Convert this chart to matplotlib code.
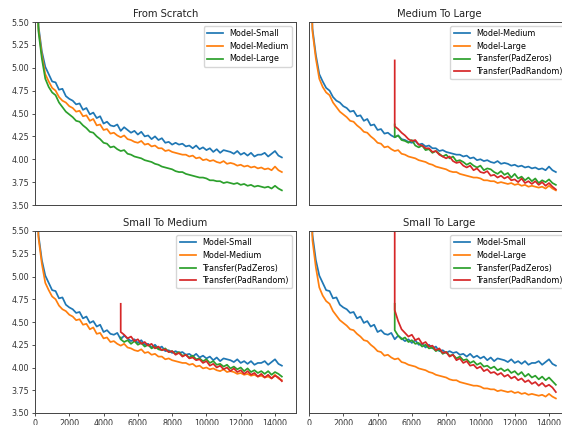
import numpy as np
import matplotlib
matplotlib.use("Agg")
import matplotlib.pyplot as plt

# ---------------- data ----------------
steps = np.arange(0, 14401, 200)
transfer_steps = np.concatenate([[5000], np.arange(5000, 14401, 200)])

model_small = [
    7.20, 5.46, 5.18, 5.01, 4.93, 4.85, 4.84, 4.76, 4.77, 4.69,
    4.66, 4.64, 4.60, 4.61, 4.54, 4.56, 4.49, 4.51, 4.45, 4.47,
    4.39, 4.41, 4.37, 4.36, 4.38, 4.31, 4.35, 4.32, 4.29, 4.31,
    4.27, 4.30, 4.25, 4.26, 4.22, 4.25, 4.21, 4.23, 4.18, 4.19,
    4.16, 4.18, 4.16, 4.17, 4.14, 4.15, 4.12, 4.15, 4.11, 4.13,
    4.10, 4.12, 4.08, 4.11, 4.07, 4.10, 4.09, 4.08, 4.06, 4.09,
    4.05, 4.07, 4.04, 4.07, 4.03, 4.05, 4.05, 4.07, 4.03, 4.06,
    4.09, 4.04, 4.02,
]
model_medium = [
    7.10, 5.43, 5.14, 4.93, 4.85, 4.78, 4.75, 4.68, 4.64, 4.62,
    4.58, 4.56, 4.52, 4.53, 4.47, 4.48, 4.42, 4.44, 4.37, 4.38,
    4.32, 4.33, 4.28, 4.29, 4.26, 4.24, 4.26, 4.22, 4.21, 4.19,
    4.18, 4.20, 4.16, 4.17, 4.14, 4.15, 4.12, 4.12, 4.09, 4.10,
    4.08, 4.07, 4.06, 4.05, 4.05, 4.03, 4.04, 4.01, 4.02, 3.99,
    4.00, 3.98, 3.99, 3.97, 3.96, 3.98, 3.95, 3.96, 3.95, 3.93,
    3.94, 3.92, 3.93, 3.91, 3.92, 3.90, 3.91, 3.89, 3.90, 3.88,
    3.92, 3.88, 3.86,
]
model_large = [
    7.00, 5.40, 5.10, 4.88, 4.79, 4.73, 4.70, 4.62, 4.57, 4.52,
    4.49, 4.46, 4.42, 4.41, 4.37, 4.34, 4.30, 4.29, 4.25, 4.22,
    4.18, 4.17, 4.13, 4.14, 4.11, 4.09, 4.10, 4.06, 4.05, 4.03,
    4.02, 4.01, 3.99, 3.98, 3.97, 3.95, 3.94, 3.92, 3.91, 3.90,
    3.89, 3.87, 3.86, 3.86, 3.84, 3.83, 3.82, 3.81, 3.80, 3.80,
    3.79, 3.77, 3.77, 3.76, 3.76, 3.74, 3.75, 3.74, 3.73, 3.74,
    3.72, 3.73, 3.71, 3.72, 3.70, 3.71, 3.70, 3.69, 3.70, 3.68,
    3.71, 3.68, 3.66,
]

# Medium -> Large transfer
ml_padzeros = [
    4.38,
    4.24, 4.26, 4.21, 4.20, 4.18, 4.21, 4.15, 4.13, 4.15, 4.10,
    4.11, 4.07, 4.09, 4.06, 4.03, 4.05, 4.01, 4.03, 3.98, 3.99,
    3.97, 3.94, 3.96, 3.93, 3.91, 3.93, 3.88, 3.90, 3.89, 3.86,
    3.84, 3.87, 3.83, 3.85, 3.80, 3.84, 3.79, 3.81, 3.77, 3.80,
    3.76, 3.79, 3.74, 3.77, 3.75, 3.78, 3.74, 3.72,
]
ml_padrandom = [
    5.08,
    4.36, 4.33, 4.29, 4.26, 4.22, 4.20, 4.21, 4.16, 4.15, 4.12,
    4.12, 4.08, 4.09, 4.05, 4.03, 4.01, 4.03, 3.98, 3.96, 3.97,
    3.93, 3.91, 3.93, 3.88, 3.90, 3.86, 3.85, 3.87, 3.82, 3.83,
    3.80, 3.82, 3.79, 3.81, 3.77, 3.78, 3.75, 3.79, 3.74, 3.76,
    3.73, 3.76, 3.72, 3.75, 3.71, 3.74, 3.70, 3.67,
]
# Small -> Medium transfer
sm_padzeros = [
    4.33,
    4.31, 4.28, 4.30, 4.26, 4.29, 4.25, 4.27, 4.23, 4.25, 4.21,
    4.23, 4.20, 4.19, 4.21, 4.17, 4.18, 4.15, 4.17, 4.13, 4.14,
    4.11, 4.13, 4.09, 4.10, 4.07, 4.09, 4.05, 4.07, 4.03, 4.04,
    4.01, 4.03, 3.99, 4.01, 3.98, 4.00, 3.96, 3.99, 3.95, 3.97,
    3.94, 3.96, 3.93, 3.96, 3.92, 3.95, 3.93, 3.90,
]
sm_padrandom = [
    4.70,
    4.39, 4.36, 4.32, 4.34, 4.29, 4.31, 4.26, 4.28, 4.24, 4.26,
    4.21, 4.23, 4.19, 4.20, 4.17, 4.18, 4.14, 4.16, 4.12, 4.14,
    4.10, 4.11, 4.08, 4.09, 4.05, 4.07, 4.02, 4.04, 4.00, 4.02,
    3.98, 4.00, 3.96, 3.99, 3.95, 3.97, 3.93, 3.96, 3.92, 3.94,
    3.90, 3.93, 3.89, 3.92, 3.88, 3.91, 3.89, 3.85,
]
# Small -> Large transfer
sl_padzeros = [
    4.70,
    4.41, 4.35, 4.31, 4.33, 4.28, 4.30, 4.26, 4.27, 4.23, 4.25,
    4.21, 4.22, 4.18, 4.20, 4.15, 4.17, 4.13, 4.14, 4.10, 4.12,
    4.08, 4.09, 4.05, 4.07, 4.03, 4.05, 4.01, 4.02, 3.99, 4.01,
    3.97, 3.99, 3.96, 3.98, 3.94, 3.96, 3.92, 3.95, 3.90, 3.93,
    3.89, 3.91, 3.87, 3.90, 3.86, 3.89, 3.85, 3.81,
]
sl_padrandom = [
    6.80,
    4.63, 4.51, 4.42, 4.38, 4.34, 4.36, 4.30, 4.32, 4.26, 4.28,
    4.23, 4.24, 4.19, 4.21, 4.16, 4.17, 4.12, 4.14, 4.08, 4.10,
    4.05, 4.07, 4.02, 4.03, 3.99, 4.01, 3.96, 3.98, 3.94, 3.95,
    3.92, 3.94, 3.90, 3.92, 3.88, 3.90, 3.86, 3.88, 3.84, 3.86,
    3.82, 3.84, 3.80, 3.83, 3.79, 3.81, 3.78, 3.73,
]

titles = ["From Scratch", "Medium To Large", "Small To Medium", "Small To Large"]
yticks = [3.50, 3.75, 4.00, 4.25, 4.50, 4.75, 5.00, 5.25, 5.50]
xticks = [0, 2000, 4000, 6000, 8000, 10000, 12000, 14000]

# ---------------- figure ----------------
W, H = 562, 425
fig = plt.figure(figsize=(W / 100, H / 100), dpi=100)

lw = 1.25
fs_tick = 5.8
fs_title = 7.2
fs_leg = 5.8

colL, colR, wcol = 35 / W, 309 / W, 261 / W
rowT, hT = 1 - 205 / H, 183 / H
rowB, hB = 1 - 413 / H, 182 / H

positions = [
    [colL, rowT, wcol, hT],
    [colR, rowT, wcol, hT],
    [colL, rowB, wcol, hB],
    [colR, rowB, wcol, hB],
]

panels = [
    [("Model-Small", steps, model_small, "C0"),
     ("Model-Medium", steps, model_medium, "C1"),
     ("Model-Large", steps, model_large, "C2")],
    [("Model-Medium", steps, model_medium, "C0"),
     ("Model-Large", steps, model_large, "C1"),
     ("Transfer(PadZeros)", transfer_steps, ml_padzeros, "C2"),
     ("Transfer(PadRandom)", transfer_steps, ml_padrandom, "C3")],
    [("Model-Small", steps, model_small, "C0"),
     ("Model-Medium", steps, model_medium, "C1"),
     ("Transfer(PadZeros)", transfer_steps, sm_padzeros, "C2"),
     ("Transfer(PadRandom)", transfer_steps, sm_padrandom, "C3")],
    [("Model-Small", steps, model_small, "C0"),
     ("Model-Large", steps, model_large, "C1"),
     ("Transfer(PadZeros)", transfer_steps, sl_padzeros, "C2"),
     ("Transfer(PadRandom)", transfer_steps, sl_padrandom, "C3")],
]

for i, (pos, series, title) in enumerate(zip(positions, panels, titles)):
    ax = fig.add_axes(pos)
    for label, xs, ys, c in series:
        ax.plot(xs, ys, color=c, lw=lw, label=label)
    ax.set_xlim(0, 15225)
    ax.set_ylim(3.5, 5.5)
    ax.set_title(title, fontsize=fs_title, pad=3.5, color="#222222")
    ax.set_yticks(yticks)
    ax.set_yticklabels([f"{v:.2f}" for v in yticks])
    ax.set_xticks(xticks)
    ax.set_xticklabels([str(v) for v in xticks])
    ax.tick_params(labelsize=fs_tick, length=2.2, width=0.6, pad=2, colors="#333333")
    for sp in ax.spines.values():
        sp.set_linewidth(0.7)
        sp.set_color("#444444")
    if i in (0, 1):
        ax.tick_params(axis="x", bottom=False, labelbottom=False)
    if i in (1, 3):
        ax.tick_params(axis="y", left=False, labelleft=False)
    leg = ax.legend(loc="upper right", fontsize=fs_leg, handlelength=2.0,
                    borderaxespad=0.5, labelspacing=0.45, borderpad=0.4)
    for line in leg.get_lines():
        line.set_linewidth(lw)

fig.savefig("out.png", dpi=100)
